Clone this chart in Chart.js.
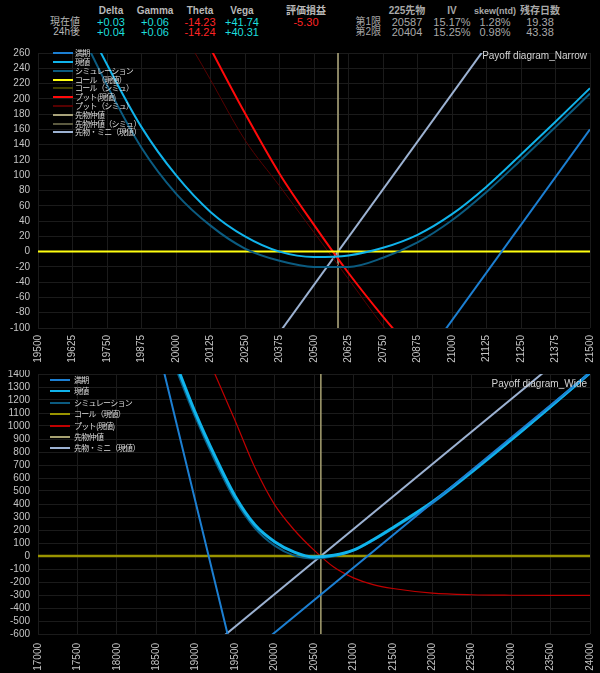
<!DOCTYPE html>
<html>
<head>
<meta charset="utf-8">
<script src="https://cdn.jsdelivr.net/npm/chart.js@4.4.0/dist/chart.umd.min.js"></script>
<style>
  body { margin: 0; background: #000; width: 600px; height: 673px; overflow: hidden; position: relative;
         font-family: 'Liberation Sans', 'Noto Sans CJK JP', sans-serif; }
  .c { position: absolute; transform: translate(-50%, -50%); white-space: nowrap; line-height: 1; }
  .r { position: absolute; transform: translate(-100%, -50%); white-space: nowrap; line-height: 1; }
  canvas { position: absolute; left: 0; }
  .leg { position: absolute; pointer-events: none; font-family: 'Noto Sans CJK JP', sans-serif; font-size: 8px; letter-spacing: -0.7px; color: #dcdcdc; }
  .leg .item { position: absolute; left: 0; display: flex; align-items: center; white-space: nowrap; transform: translateY(-50%); line-height: 1; }
  .leg .sw { display: inline-block; width: 20px; }
  .title { position: absolute; font-size: 10px; color: #d4d4d4; white-space: nowrap; transform: translate(-100%, -50%); line-height: 1; }
</style>
</head>
<body>
<div id="header"></div>
<canvas id="chartNarrow" width="600" height="327" style="top:45px"></canvas>
<canvas id="chartWide" width="600" height="303" style="top:370px"></canvas>
<script>
// ---- header table ----
const greekHeaders = ['Delta', 'Gamma', 'Theta', 'Vega', '評価損益'];
const greekRows = ['現在値', '24h後'];
const greekNow = ['+0.03', '+0.06', '-14.23', '+41.74', '-5.30'];
const greek24h = ['+0.04', '+0.06', '-14.24', '+40.31', ''];
const futHeaders = ['225先物', 'IV', 'skew(ntd)', '残存日数'];
const futRows = ['第1限', '第2限'];
const futFirst = ['20587', '15.17%', '1.28%', '19.38'];
const futSecond = ['20404', '15.25%', '0.98%', '43.38'];

// ---- Payoff diagram_Narrow ----
const narrowX = [19500, 19625, 19750, 19875, 20000, 20125, 20250, 20375, 20500, 20625, 20750, 20875, 21000, 21125, 21250, 21375, 21500];
const narrowGenchi = [440, 335, 245, 163, 100, 52, 20, 0, -7, -5, 5, 22, 49, 85, 127, 170, 214];
const narrowSim = [420, 312, 218, 136, 76, 34, 4, -12, -20, -20, -8, 12, 41, 78, 120, 163, 207];
const narrowPut = [750, 650, 550, 450, 355, 266, 181, 102, 35, -28, -85, -137, -180, -215, -242, -262, -277];
const narrowPutSim = [700, 600, 500, 400, 305, 225, 146, 86, 25, -36, -97, -150, -190, -225, -250, -268, -280];
const narrowEdgeX = [19500, 21500];
const narrowExpiry = [-840, 160];
const narrowFuture = [-543.5, 456.5];
const narrowCall = [0, 0];
const narrowYRange = [-100, 260];

// ---- Payoff diagram_Wide ----
const wideX = [17000, 18000, 18500, 18750, 19000, 19250, 19500, 19750, 20000, 20250, 20500, 20750, 21000, 21250, 21500, 22000, 22500, 23000, 23500, 24000];
const wideGenchi = [4400, 2700, 1880, 1480, 1095, 760, 460, 240, 110, 30, -8, 5, 45, 125, 218, 415, 648, 895, 1150, 1410];
const wideSim = [4350, 2650, 1840, 1440, 1060, 725, 430, 215, 80, 3, -20, -3, 43, 120, 210, 405, 640, 888, 1145, 1405];
const widePut = [4700, 3200, 2470, 2110, 1750, 1390, 1040, 680, 395, 200, 45, -85, -168, -220, -250, -285, -298, -302, -303, -303];
const wideExpiryX = [17000, 19500, 24000];
const wideExpiry = [5410, -840, 1410];
const wideEdgeX = [17000, 24000];
const wideFuture = [-1793.5, 1706.5];
const wideCall = [0, 0];
const wideYRange = [-600, 1400];

const midPrice = 20587;

const narrowLabels = ['満期', '現値', 'シミュレーション', 'コール（現値）', 'コール（シミュ）', 'プット(現値)', 'プット（シミュ）', '先物仲値', '先物仲値（シミュ）', '先物・ミニ（現値）'];
const wideLabels = ['満期', '現値', 'シミュレーション', 'コール（現値）', 'プット(現値)', '先物仲値', '先物・ミニ（現値）'];

function pts(xs, ys) {
    return xs.map((x, i) => ({ x: x, y: ys[i] }));
}

function vline(x, range) {
    return [{ x: x, y: range[0] }, { x: x, y: range[1] }];
}

function line(label, data, color, width, curve) {
    return {
        label: label,
        data: data,
        borderColor: color,
        backgroundColor: color,
        borderWidth: width,
        pointRadius: 0,
        fill: false,
        tension: 0,
        cubicInterpolationMode: curve ? 'monotone' : 'default'
    };
}

function drawHeader() {
    const head = document.getElementById('header');
    let html = '';
    const gCols = [111, 155, 200, 242, 306];
    const fCols = [407, 452, 495, 540];
    const rowsY = [11, 21.7, 32.3];
    const gColors = ['#1cdede', '#1cdede', '#ff2424', '#1cdede', '#ff2424'];

    greekHeaders.forEach((h, i) => {
        html += `<span class="c" style="left:${gCols[i]}px;top:${rowsY[0]}px;color:#b8b8b8;font-size:10px;font-weight:bold">${h}</span>`;
        html += `<span class="c" style="left:${gCols[i]}px;top:${rowsY[1]}px;color:${gColors[i]};font-size:11px">${greekNow[i]}</span>`;
        if (greek24h[i]) html += `<span class="c" style="left:${gCols[i]}px;top:${rowsY[2]}px;color:${gColors[i]};font-size:11px">${greek24h[i]}</span>`;
    });
    greekRows.forEach((r, i) => {
        html += `<span class="r" style="left:80px;top:${rowsY[i + 1]}px;color:#b8b8b8;font-size:10px">${r}</span>`;
    });

    futHeaders.forEach((h, i) => {
        const size = i === 2 ? 9 : 10;
        html += `<span class="c" style="left:${fCols[i]}px;top:${rowsY[0]}px;color:#a8a8a8;font-size:${size}px;font-weight:bold">${h}</span>`;
        html += `<span class="c" style="left:${fCols[i]}px;top:${rowsY[1]}px;color:#a8a8a8;font-size:11px">${futFirst[i]}</span>`;
        html += `<span class="c" style="left:${fCols[i]}px;top:${rowsY[2]}px;color:#a8a8a8;font-size:11px">${futSecond[i]}</span>`;
    });
    futRows.forEach((r, i) => {
        html += `<span class="r" style="left:381px;top:${rowsY[i + 1]}px;color:#a8a8a8;font-size:10px">${r}</span>`;
    });
    head.innerHTML = html;
}

function makeChart(id, cfg) {
    const ctx = document.getElementById(id).getContext('2d');
    const tickFont = { family: 'Liberation Sans', size: 10 };
    const pad = { top: cfg.area.top, right: 600 - cfg.area.right, left: 0, bottom: 0 };
    const chart = new Chart(ctx, {
        type: 'line',
        data: { datasets: cfg.datasets },
        options: {
            responsive: false,
            animation: false,
            events: [],
            layout: { padding: pad },
            plugins: { legend: { display: false }, tooltip: { enabled: false } },
            scales: {
                x: {
                    type: 'linear',
                    min: cfg.xMin, max: cfg.xMax,
                    afterFit: (axis) => { axis.height = cfg.xAxisH; axis.paddingLeft = 0; axis.paddingRight = 0; },
                    grid: { color: '#1b1b1b', drawTicks: false },
                    border: { display: false },
                    ticks: {
                        stepSize: cfg.xStep, autoSkip: false, minRotation: 90, maxRotation: 90,
                        padding: cfg.xPad, color: '#c4c4c4', font: tickFont,
                        callback: (v) => String(v)
                    }
                },
                y: {
                    min: cfg.yRange[0], max: cfg.yRange[1],
                    afterFit: (axis) => { axis.width = 38; axis.paddingTop = 0; axis.paddingBottom = 0; },
                    grid: { color: '#1b1b1b', drawTicks: false },
                    border: { display: false },
                    ticks: {
                        stepSize: cfg.yStep, autoSkip: false, padding: 8, color: '#c4c4c4', font: tickFont,
                        callback: (v) => String(v)
                    }
                }
            }
        }
    });
    // nudge the padding until the plot area sits where the reference has it
    for (let k = 0; k < 4; k++) {
        const a = chart.chartArea;
        const dTop = cfg.area.top - a.top;
        const dRight = a.right - cfg.area.right;
        if (Math.abs(dTop) < 0.5 && Math.abs(dRight) < 0.5) break;
        pad.top += dTop;
        pad.right += dRight;
        chart.config.options.layout.padding = Object.assign({}, pad);
        chart.update();
    }
    return chart;
}

function buildLegend(chart, canvasTop, cfg) {
    const box = document.createElement('div');
    box.className = 'leg';
    box.style.left = (chart.chartArea.left + cfg.offX) + 'px';
    box.style.top = (canvasTop + chart.chartArea.top + cfg.offY) + 'px';
    chart.data.datasets.forEach((ds, i) => {
        const item = document.createElement('div');
        item.className = 'item';
        item.style.top = (i * cfg.gap) + 'px';
        const sw = document.createElement('span');
        sw.className = 'sw';
        sw.style.height = '2px';
        sw.style.background = ds.borderColor;
        sw.style.marginRight = cfg.textGap + 'px';
        const txt = document.createElement('span');
        txt.textContent = ds.label;
        item.appendChild(sw);
        item.appendChild(txt);
        box.appendChild(item);
    });
    document.body.appendChild(box);

    const t = document.createElement('div');
    t.className = 'title';
    t.textContent = cfg.title;
    t.style.left = (chart.chartArea.right - 3) + 'px';
    t.style.top = (canvasTop + chart.chartArea.top + cfg.titleY) + 'px';
    document.body.appendChild(t);
}

drawHeader();

const narrowChart = makeChart('chartNarrow', {
    area: { top: 8, right: 590 }, xAxisH: 44, xPad: 7,
    xMin: narrowX[0], xMax: narrowX[narrowX.length - 1], xStep: 125,
    yRange: narrowYRange, yStep: 20,
    datasets: [
        line(narrowLabels[0], pts(narrowEdgeX, narrowExpiry), '#1c7fd2', 2, false),
        line(narrowLabels[1], pts(narrowX, narrowGenchi), '#10b4ec', 2, true),
        line(narrowLabels[2], pts(narrowX, narrowSim), '#0b5b80', 2, true),
        line(narrowLabels[3], pts(narrowEdgeX, narrowCall), '#ffff10', 2, false),
        line(narrowLabels[4], pts(narrowEdgeX, narrowCall), '#404000', 1, false),
        line(narrowLabels[5], pts(narrowX, narrowPut), '#ff0a0a', 2, true),
        line(narrowLabels[6], pts(narrowX, narrowPutSim), '#560000', 1, true),
        line(narrowLabels[7], vline(midPrice, narrowYRange), '#a8a27a', 1.5, false),
        line(narrowLabels[8], vline(midPrice, narrowYRange), '#5c5a40', 1, false),
        line(narrowLabels[9], pts(narrowEdgeX, narrowFuture), '#9cb2d2', 2, false)
    ]
});

const wideChart = makeChart('chartWide', {
    area: { top: 4, right: 590 }, xAxisH: 39, xPad: 9,
    xMin: wideX[0], xMax: wideX[wideX.length - 1], xStep: 500,
    yRange: wideYRange, yStep: 100,
    datasets: [
        line(wideLabels[0], pts(wideExpiryX, wideExpiry), '#1c7fd2', 2, false),
        line(wideLabels[1], pts(wideX, wideGenchi), '#10b4ec', 3, true),
        line(wideLabels[2], pts(wideX, wideSim), '#0b5b80', 2, true),
        line(wideLabels[3], pts(wideEdgeX, wideCall), '#9a9400', 2.5, false),
        line(wideLabels[4], pts(wideX, widePut), '#c00000', 1.2, true),
        line(wideLabels[5], vline(midPrice, wideYRange), '#a8a272', 1.5, false),
        line(wideLabels[6], pts(wideEdgeX, wideFuture), '#9cb2d2', 2, false)
    ]
});

buildLegend(narrowChart, 45, { offX: 15, offY: 0.3, gap: 8.8, textGap: 2, title: 'Payoff diagram_Narrow', titleY: 3 });
buildLegend(wideChart, 370, { offX: 12, offY: 6, gap: 11.4, textGap: 4, title: 'Payoff diagram_Wide', titleY: 10 });
</script>
</body>
</html>
